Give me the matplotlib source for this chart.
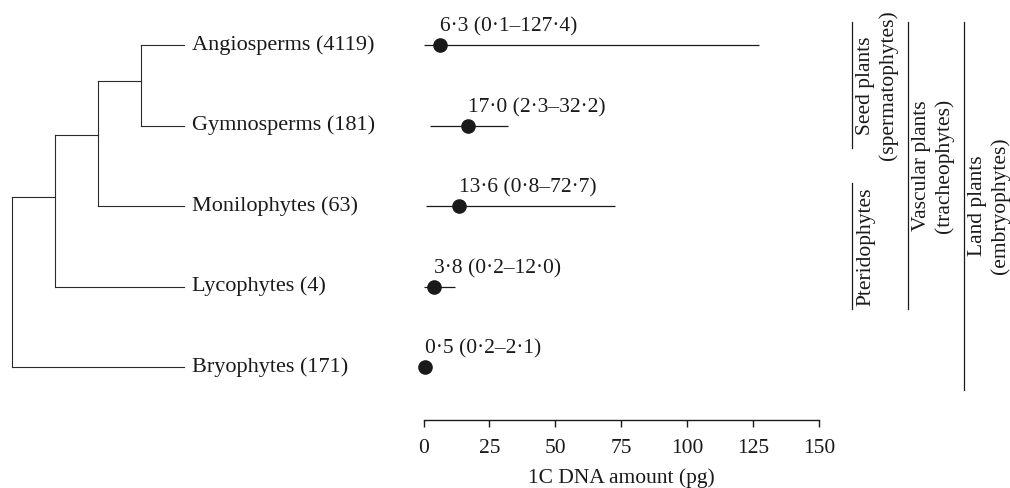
import matplotlib
matplotlib.use("Agg")
import matplotlib.pyplot as plt

plt.rcParams['font.family'] = ['Liberation Serif', 'DejaVu Serif']
plt.rcParams['font.size'] = 15.5

# taxa, top to bottom (row 4 = top)
taxa = ['Angiosperms', 'Gymnosperms', 'Monilophytes', 'Lycophytes', 'Bryophytes']
n_species = [4119, 181, 63, 4, 171]
rows = [4, 3, 2, 1, 0]

# 1C DNA amount (pg): median and range
median = [6.3, 17.0, 13.6, 3.8, 0.5]
low = [0.1, 2.3, 0.8, 0.2, 0.2]
high = [127.4, 32.2, 72.7, 12.0, 2.1]

# cladogram: internal nodes (name, depth, row position, children)
tip_depth = 4
nodes = [
    ('root', 0, None, ['n1', 'Bryophytes']),
    ('n1', 1, 2.11, ['n2', 'Lycophytes']),
    ('n2', 2, 2.88, ['n3', 'Monilophytes']),
    ('n3', 3, 3.55, ['Angiosperms', 'Gymnosperms']),
]

# groups on the right: (title, subtitle, first taxon, last taxon, column)
groups = [
    ('Seed plants', '(spermatophytes)', 'Angiosperms', 'Gymnosperms', 0),
    ('Pteridophytes', '', 'Monilophytes', 'Lycophytes', 0),
    ('Vascular plants', '(tracheophytes)', 'Angiosperms', 'Lycophytes', 1),
    ('Land plants', '(embryophytes)', 'Angiosperms', 'Bryophytes', 2),
]

ink = '#1a1a1a'
W, H = 1010, 488
fig = plt.figure(figsize=(W / 100, H / 100), dpi=100)

ax = fig.add_axes([423.5 / W, 68 / H, 395.5 / W, 420 / H])
ax.set_xlim(0, 150)
ax.set_ylim(-0.658, 4.559)
for s in ['top', 'right', 'left']:
    ax.spines[s].set_visible(False)
ax.spines['bottom'].set_color(ink)
ax.spines['bottom'].set_linewidth(1.0)
ax.set_yticks([])
ax.set_xticks([0, 25, 50, 75, 100, 125, 150])
ax.tick_params(axis='x', direction='out', length=5, width=1.0, color=ink,
               labelcolor=ink, pad=9)
ax.set_xlabel('1C DNA amount (pg)', color=ink, labelpad=7)

for r, m, lo, hi in zip(rows, median, low, high):
    ax.plot([lo, hi], [r, r], color=ink, lw=0.9, solid_capstyle='butt', clip_on=False)
    ax.plot(m, r, 'o', color=ink, ms=9.5, clip_on=False)
    lbl = f'{m:.1f} ({lo:.1f}–{hi:.1f})'.replace('.', '·')
    ax.annotate(lbl, (m, r), xytext=(0, 6), textcoords='offset points',
                ha='left', va='bottom', color=ink, annotation_clip=False)

# cladogram
tax = fig.add_axes([12 / W, 68 / H, 172 / W, 420 / H], sharey=ax)
tax.set_xlim(0, tip_depth)
tax.axis('off')
ypos = dict(zip(taxa, rows))
depth = {t: tip_depth for t in taxa}
for name, d, y, kids in nodes:
    depth[name] = d
    if y is not None:
        ypos[name] = y
tree_kw = dict(color='#2a2a2a', lw=0.8, clip_on=False)
for name, d, y, kids in nodes:
    ys = [ypos[k] for k in kids]
    tax.plot([d, d], [min(ys), max(ys)], **tree_kw)
    for k in kids:
        tax.plot([d, depth[k]], [ypos[k], ypos[k]], **tree_kw)
for t, n, r in zip(taxa, n_species, rows):
    tax.annotate(f'{t} ({n})', (tip_depth, r), xytext=(6, 0), fontsize=16,
                 textcoords='offset points', ha='left', va='center', color=ink)

# group brackets
gax = fig.add_axes([840 / W, 68 / H, 170 / W, 420 / H], sharey=ax)
gax.set_xlim(-12 / 56, 158 / 56)
gax.axis('off')
pad = 0.28
for title, sub, first, last, col in groups:
    y0, y1 = ypos[last] - pad, ypos[first] + pad
    gax.plot([col, col], [y0, y1], color=ink, lw=0.9, clip_on=False)
    txt = title if not sub else f'{title}\n{sub}'
    gax.annotate(txt, (col, (y0 + y1) / 2), xytext=(3, 0), textcoords='offset points',
                 rotation=90, ha='left', va='center', multialignment='center',
                 linespacing=1.2, color=ink, annotation_clip=False)

fig.savefig('out.png', dpi=100)
